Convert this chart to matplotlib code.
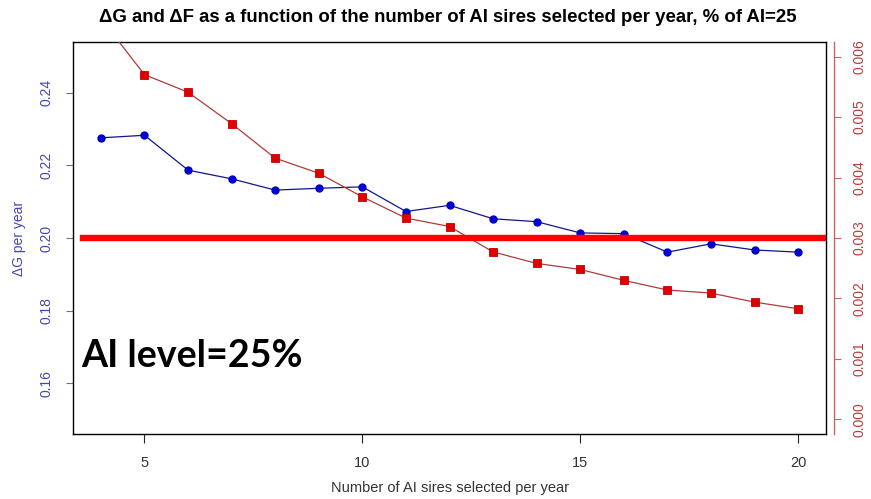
import matplotlib
matplotlib.use("Agg")
import matplotlib.pyplot as plt
from matplotlib import font_manager
from matplotlib.ticker import FormatStrFormatter, FixedLocator

# ---- data ----
n_sires = [4, 5, 6, 7, 8, 9, 10, 11, 12, 13, 14, 15, 16, 17, 18, 19, 20]
delta_G = [0.2276, 0.2283, 0.2187, 0.2163, 0.2132, 0.2137, 0.2141, 0.2073, 0.2090,
           0.2053, 0.2045, 0.2014, 0.2012, 0.1961, 0.1984, 0.1967, 0.1961]
delta_F = [0.00663, 0.00570, 0.00541, 0.00489, 0.00432, 0.00407, 0.00368, 0.00333, 0.00319,
           0.00277, 0.00258, 0.00248, 0.00230, 0.00214, 0.00209, 0.00194, 0.00183]
ref_level = 0.20
x_ticks = [5, 10, 15, 20]
g_ticks = [0.16, 0.18, 0.20, 0.22, 0.24]
f_ticks = [0.000, 0.001, 0.002, 0.003, 0.004, 0.005, 0.006]
title = "\u0394G and \u0394F as a function of the number of AI sires selected per year, % of AI=25"
xlabel = "Number of AI sires selected per year"
ylabel = "\u0394G per year"
note = "AI level=25%"

avail = {f.name for f in font_manager.fontManager.ttflist}
narrow = "Liberation Sans Narrow" if "Liberation Sans Narrow" in avail else "Liberation Sans"
plt.rcParams['font.family'] = [narrow, 'Liberation Sans', 'DejaVu Sans']

W, H = 871, 499
fig = plt.figure(figsize=(W / 100, H / 100), dpi=100)
ax = fig.add_axes([73 / W, 1 - 434 / H, (826 - 73) / W, (434 - 42) / H])
ax2 = ax.twinx()

blue_line = "#14148c"
blue_mk = "#0000d0"
red_line = "#b03a3a"
red_mk = "#e00000"
left_col = "#4646b4"
right_col = "#b83c3c"

ax.plot(n_sires, delta_G, color=blue_line, lw=0.9, marker='o', ms=5,
        mfc=blue_mk, mec=blue_mk, zorder=3)
ax2.plot(n_sires, delta_F, color=red_line, lw=0.9, marker='s', ms=5.5,
         mfc=red_mk, mec="#c00000", mew=0.6, zorder=3)
ax2.axhline(0.003, xmin=(83 - 73) / (826 - 73), xmax=1, color="#ff0000", lw=4.6, zorder=4)

ax.set_xlim(3.36, 20.64)
ax.set_ylim(0.146, 0.254)
ax2.set_ylim(-0.00024, 0.00624)

ax.xaxis.set_major_locator(FixedLocator(x_ticks))
ax.yaxis.set_major_locator(FixedLocator(g_ticks))
ax2.yaxis.set_major_locator(FixedLocator(f_ticks))
ax.yaxis.set_major_formatter(FormatStrFormatter('%.2f'))
ax2.yaxis.set_major_formatter(FormatStrFormatter('%.3f'))

for s in ax.spines.values():
    s.set_color('black')
    s.set_linewidth(1.0)
for s in ['top', 'left', 'bottom']:
    ax2.spines[s].set_visible(False)
ax2.spines['right'].set_position(('outward', 6))
ax2.spines['right'].set_color("#c86464")
ax2.spines['right'].set_linewidth(1.0)

ax.tick_params(axis='x', direction='out', length=6.5, width=0.8, color='#222222',
               labelsize=10.5, pad=9, labelcolor='#333333')
ax.tick_params(axis='y', direction='out', length=5, width=0.8, color='#7070a0',
               labelsize=10, pad=9, labelcolor=left_col, labelrotation=90)
ax2.tick_params(axis='y', direction='out', length=5, width=0.8, color='#c86464',
                labelsize=10, pad=8, labelcolor=right_col, labelrotation=90)
for lab in ax.get_yticklabels():
    lab.set_va('center')
for lab in ax2.get_yticklabels():
    lab.set_va('center')

ax.set_xlabel(xlabel, fontsize=10.5, color='#333333', labelpad=8)
ax.set_ylabel(ylabel, fontsize=10, color=left_col, labelpad=10)

t = fig.text(448 / W, 1 - 22 / H, title, ha='center', va='baseline',
             fontsize=12, fontweight='bold', color='black',
             family=['Liberation Sans', 'DejaVu Sans'])
n = fig.text(81 / W, 1 - 367 / H, note, ha='left', va='baseline',
             fontsize=28, fontweight='bold', color='black',
             family=['Lato', 'DejaVu Sans'], zorder=5)

# fit text widths to the reference
r = fig.canvas.get_renderer()
for txt, target in [(t, 700), (n, 221)]:
    w = txt.get_window_extent(r).width
    txt.set_fontsize(txt.get_fontsize() * target / w)

fig.savefig("out.png", dpi=100)
